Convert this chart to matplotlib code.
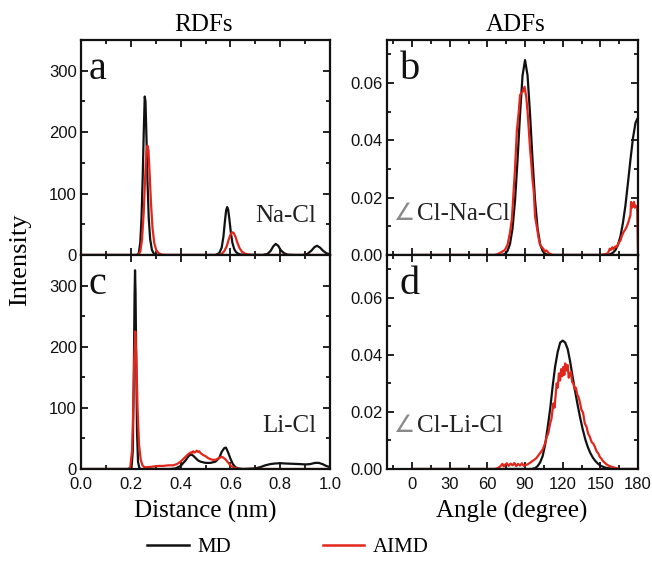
import matplotlib
matplotlib.use("Agg")
import matplotlib.pyplot as plt
from matplotlib.lines import Line2D
from matplotlib.ticker import MultipleLocator, FormatStrFormatter

# ---------------- data ----------------
# Panel a: Na-Cl RDF
nacl_md_x = [0.0, 0.225, 0.232, 0.238, 0.243, 0.248, 0.252, 0.256, 0.259, 0.263, 0.267, 0.272, 0.278, 0.285, 0.293, 0.305,
             0.50, 0.54, 0.555, 0.565, 0.572, 0.578, 0.583, 0.587, 0.591, 0.596, 0.602, 0.608, 0.615, 0.622, 0.632, 0.645,
             0.73, 0.75, 0.762, 0.772, 0.782, 0.792, 0.802, 0.815, 0.83, 0.86,
             0.89, 0.91, 0.925, 0.938, 0.948, 0.96, 0.972, 0.985, 1.0]
nacl_md_y = [0, 0, 3, 20, 60, 130, 200, 258, 250, 190, 120, 60, 25, 8, 2, 0,
             0, 0, 3, 12, 30, 55, 73, 78, 74, 58, 36, 20, 10, 5, 2, 0.5,
             0, 2, 7, 14, 18, 15, 8, 3, 0.5, 0,
             0, 2, 7, 13, 15, 12, 7, 3, 1]
nacl_aimd_x = [0.0, 0.228, 0.238, 0.245, 0.252, 0.258, 0.263, 0.267, 0.271, 0.276, 0.281, 0.287, 0.294, 0.302, 0.312, 0.325, 0.34,
               0.55, 0.565, 0.575, 0.585, 0.593, 0.600, 0.607, 0.613, 0.62, 0.628, 0.637, 0.647, 0.66, 0.675, 0.69, 1.0]
nacl_aimd_y = [0, 0, 5, 25, 70, 130, 170, 178, 170, 130, 85, 45, 20, 8, 3, 0.5, 0,
               0, 2, 6, 14, 25, 33, 37, 36, 30, 20, 11, 5, 2, 0.5, 0, 0]

# Panel c: Li-Cl RDF
licl_md_x = [0.0, 0.195, 0.203, 0.208, 0.212, 0.215, 0.217, 0.219, 0.222, 0.225, 0.229, 0.234, 0.24,
             0.36, 0.38, 0.40, 0.42, 0.43, 0.44, 0.45, 0.46, 0.47, 0.48, 0.50, 0.52, 0.54, 0.555, 0.565, 0.575,
             0.582, 0.59, 0.60, 0.61, 0.62, 0.63, 0.65, 0.70, 0.72, 0.74, 0.76, 0.78, 0.80, 0.82, 0.85, 0.88,
             0.90, 0.92, 0.94, 0.955, 0.97, 0.985, 1.0]
licl_md_y = [0, 0, 2, 30, 150, 280, 325, 290, 170, 60, 12, 2, 0,
             0, 1, 5, 14, 20, 24, 22, 18, 14, 12, 10, 10, 12, 18, 28, 34,
             35, 28, 17, 8, 3, 1, 0, 1, 3, 6, 8, 9, 9.5, 9, 8.5, 8,
             7.5, 8, 10, 10, 8, 5, 3]
licl_aimd_x = [0.0, 0.19, 0.198, 0.205, 0.21, 0.214, 0.218, 0.222, 0.227, 0.233, 0.24, 0.247, 0.255, 0.27, 0.29,
               0.31, 0.33, 0.35, 0.37, 0.385, 0.40, 0.41, 0.42, 0.43, 0.44, 0.445, 0.45, 0.455, 0.46, 0.465,
               0.47, 0.475, 0.48, 0.49, 0.50, 0.51, 0.52, 0.53, 0.54, 0.55, 0.56, 0.565, 0.57, 0.58, 0.59,
               0.60, 0.61, 0.62, 0.63, 0.65, 1.0]
licl_aimd_y = [0, 0, 3, 30, 100, 180, 225, 185, 100, 40, 15, 6, 3, 3, 4,
               5, 5, 6, 6, 8, 12, 16, 20, 24, 27, 26, 29, 27, 28, 30,
               28, 29, 26, 23, 21, 18, 16, 15, 15, 17, 19, 20, 19, 16, 11,
               6, 3, 1.5, 0.5, 0, 0]

# Panel b: Cl-Na-Cl ADF
clnacl_md_x = [0, 70, 72, 74, 76, 78, 80, 82, 84, 86, 88, 90, 92, 94, 96, 98, 100, 102, 104, 106, 108, 110,
               156, 158, 160, 162, 164, 166, 168, 170, 172, 174, 176, 178, 180]
clnacl_md_y = [0, 0, 0.0001, 0.0004, 0.0014, 0.0038, 0.0092, 0.0189, 0.033, 0.049, 0.0626, 0.068, 0.0626,
               0.049, 0.033, 0.0189, 0.0092, 0.0038, 0.0014, 0.0004, 0.0001, 0,
               0, 0.0003, 0.0008, 0.0017, 0.0035, 0.0065, 0.0112, 0.0173, 0.0252, 0.0333, 0.0408, 0.0461, 0.048]
clnacl_aimd_x = [0, 66, 69, 72, 74, 76, 78, 79.5, 81, 82, 83.5, 85, 86, 87, 88.3, 89.6, 91, 92, 93, 94, 94.8,
                 96, 97, 98, 99.5, 100.6, 102, 103, 104.5, 106, 107, 109, 112,
                 150, 154, 156, 157.5, 158.5, 159.5, 160.5, 162, 163, 164, 165, 166, 167, 168.5, 170, 171,
                 172, 173, 174, 174.5, 175.2, 176, 176.8, 177.5, 178.5, 179.3, 179.7, 180]
clnacl_aimd_y = [0, 0, 0.0005, 0.0012, 0.0018, 0.0035, 0.0078, 0.0125, 0.023, 0.030, 0.0436, 0.050, 0.0558,
                 0.0565, 0.057, 0.0587, 0.055, 0.050, 0.0436, 0.037, 0.033,
                 0.026, 0.022, 0.0134, 0.0095, 0.0064, 0.0035, 0.0029, 0.0022, 0.0012, 0.0016, 0.0006, 0,
                 0, 0.0003, 0.0006, 0.0022, 0.0018, 0.0027, 0.0021, 0.003, 0.0028, 0.0036, 0.0045, 0.005,
                 0.0065, 0.008, 0.009, 0.0099,
                 0.011, 0.0125, 0.014, 0.0185, 0.0165, 0.017, 0.0185, 0.0165, 0.0172, 0.0168, 0.008, 0]

# Panel d: Cl-Li-Cl ADF
cllicl_md_x = [0, 95, 98, 100, 102, 104, 106, 108, 110, 112, 114, 116, 118, 120, 122, 124, 126, 128, 130,
               132, 134, 136, 138, 140, 142, 144, 146, 148, 150, 153, 156, 160, 165, 180]
cllicl_md_y = [0, 0, 0.0003, 0.001, 0.0023, 0.0045, 0.0085, 0.0145, 0.021, 0.029, 0.036, 0.041, 0.0443,
               0.045, 0.0443, 0.042, 0.0375, 0.032, 0.027, 0.0222, 0.0178, 0.0138, 0.0104, 0.0077, 0.0056,
               0.004, 0.0028, 0.0019, 0.0012, 0.0006, 0.0003, 0.0001, 0, 0]
cllicl_aimd_x = [0, 66, 68, 70, 72, 73, 74, 75.5, 77, 78.5, 80, 81.5, 83, 84.5, 86, 87.5, 89, 90.5, 92, 94,
                 96.6, 99, 102, 104, 106, 107.3, 108.5, 110, 111, 112.6, 113.5, 115.2, 116, 117, 117.9,
                 118.8, 119.6, 120.5, 121.3, 122, 123, 124, 124.8, 125.8, 126.6, 127.5, 128.5, 129.5, 130.5,
                 131.5, 132.5, 133.5, 135, 136.2, 137.6, 139, 140.2, 141.6, 143, 144.5, 145.6, 147, 148.3,
                 149.5, 151, 152, 153.5, 155, 157, 158.8, 161, 162.8, 165, 180]
cllicl_aimd_y = [0, 0, 0.0003, 0.0008, 0.0018, 0.0009, 0.0015, 0.002, 0.0011, 0.0019, 0.0013, 0.0021, 0.001,
                 0.0018, 0.0012, 0.002, 0.0011, 0.0014, 0.0016, 0.0022,
                 0.003, 0.0038, 0.0056, 0.0068, 0.009, 0.0113, 0.0125, 0.016, 0.0175, 0.023, 0.0215, 0.030,
                 0.0285, 0.0335, 0.031, 0.035, 0.0325, 0.0358, 0.033, 0.037, 0.0345, 0.0364, 0.032, 0.0335,
                 0.034, 0.0305, 0.030, 0.028, 0.0285, 0.0262, 0.0253, 0.0238, 0.0206, 0.0198, 0.016, 0.0148,
                 0.0125, 0.0113, 0.0095, 0.0088, 0.0078, 0.0062, 0.0055, 0.0043, 0.0035, 0.0028, 0.0022,
                 0.0016, 0.0011, 0.0008, 0.0005, 0.0003, 0, 0]

panel_letters = ["a", "b", "c", "d"]
rdf_labels = ["Na-Cl", "Li-Cl"]
adf_labels = ["Cl-Na-Cl", "Cl-Li-Cl"]
series_names = ["MD", "AIMD"]
col_titles = ["RDFs", "ADFs"]
x_labels = ["Distance (nm)", "Angle (degree)"]
y_label = "Intensity"

# ---------------- style ----------------
BLACK = "#111111"
RED = "#e3261c"
SERIF = ["Liberation Serif", "DejaVu Serif"]
SANS = ["Liberation Sans", "DejaVu Sans"]
plt.rcParams["font.family"] = SANS
plt.rcParams["axes.linewidth"] = 1.6

W, H = 652, 571
fig = plt.figure(figsize=(W / 100, H / 100), dpi=100)

def fx(px):
    return px / W

def fy(py):
    return 1 - py / H

lx0, lx1 = 81, 330
rx0, rx1 = 387, 638
yt, ym, yb = 40, 255, 469

ax_a = fig.add_axes([fx(lx0), fy(ym), fx(lx1 - lx0), (ym - yt) / H])
ax_c = fig.add_axes([fx(lx0), fy(yb), fx(lx1 - lx0), (yb - ym) / H])
ax_b = fig.add_axes([fx(rx0), fy(ym), fx(rx1 - rx0), (ym - yt) / H])
ax_d = fig.add_axes([fx(rx0), fy(yb), fx(rx1 - rx0), (yb - ym) / H])

lw = 1.6
ax_a.plot(nacl_md_x, nacl_md_y, color=BLACK, lw=lw)
ax_a.plot(nacl_aimd_x, nacl_aimd_y, color=RED, lw=lw)
ax_c.plot(licl_md_x, licl_md_y, color=BLACK, lw=lw)
ax_c.plot(licl_aimd_x, licl_aimd_y, color=RED, lw=lw)
ax_b.plot(clnacl_md_x, clnacl_md_y, color=BLACK, lw=lw)
ax_b.plot(clnacl_aimd_x, clnacl_aimd_y, color=RED, lw=lw)
ax_d.plot(cllicl_md_x, cllicl_md_y, color=BLACK, lw=lw)
ax_d.plot(cllicl_aimd_x, cllicl_aimd_y, color=RED, lw=lw)

for ax in (ax_a, ax_c):
    ax.set_xlim(0, 1.0)
    ax.set_ylim(0, 350)
    ax.xaxis.set_major_locator(MultipleLocator(0.2))
    ax.xaxis.set_minor_locator(MultipleLocator(0.1))
    ax.yaxis.set_major_locator(MultipleLocator(100))
    ax.yaxis.set_minor_locator(MultipleLocator(50))
    ax.xaxis.set_major_formatter(FormatStrFormatter("%.1f"))
for ax in (ax_b, ax_d):
    ax.set_xlim(-20, 180)
    ax.set_ylim(0, 0.075)
    ax.set_xticks([0, 30, 60, 90, 120, 150, 180])
    ax.xaxis.set_minor_locator(MultipleLocator(15))
    ax.yaxis.set_major_locator(MultipleLocator(0.02))
    ax.yaxis.set_minor_locator(MultipleLocator(0.01))
    ax.yaxis.set_major_formatter(FormatStrFormatter("%.2f"))

for ax in (ax_a, ax_b, ax_c, ax_d):
    ax.tick_params(which="both", top=True, right=True, direction="in", width=1.3, labelsize=12,
                   colors=BLACK)
    ax.tick_params(axis="y", which="both", pad=3)
    ax.tick_params(axis="x", which="both", pad=6)
    ax.tick_params(which="major", length=5)
    ax.tick_params(which="minor", length=3)
    for sp in ax.spines.values():
        sp.set_color(BLACK)
    for lab in ax.get_xticklabels() + ax.get_yticklabels():
        lab.set_family(SANS)
for ax in (ax_a, ax_b):
    ax.tick_params(labelbottom=False)

# panel letters
for ax, letter, xpos in ((ax_a, "a", 0.032), (ax_c, "c", 0.032), (ax_b, "b", 0.05), (ax_d, "d", 0.048)):
    ax.text(xpos, 0.817, letter, transform=ax.transAxes, ha="left", va="baseline",
            fontsize=29, family=SERIF, color=BLACK)

ax_a.text(0.944, 0.153, rdf_labels[0], transform=ax_a.transAxes, ha="right", va="baseline",
          fontsize=18, family=SERIF, color="#222222")
ax_c.text(0.944, 0.173, rdf_labels[1], transform=ax_c.transAxes, ha="right", va="baseline",
          fontsize=18, family=SERIF, color="#222222")
for ax, lab, yb_ in ((ax_b, adf_labels[0], 0.163), (ax_d, adf_labels[1], 0.174)):
    ax.text(0.028, yb_, "\u2220", transform=ax.transAxes, ha="left", va="baseline",
            fontsize=17, family=["DejaVu Sans"], color="#8a8a8a")
    ax.text(0.12, yb_, lab, transform=ax.transAxes, ha="left", va="baseline",
            fontsize=18, family=SERIF, color="#222222")

# column titles and axis labels
fig.text(fx(203), fy(31), col_titles[0], ha="center", va="baseline", fontsize=18, family=SERIF)
fig.text(fx(516), fy(31), col_titles[1], ha="center", va="baseline", fontsize=18, family=SERIF)
fig.text(fx(205), fy(511), x_labels[0], ha="center", va="center", fontsize=18, family=SERIF)
fig.text(fx(512), fy(511), x_labels[1], ha="center", va="center", fontsize=18, family=SERIF)
fig.text(fx(20), fy(260), y_label, ha="center", va="center", rotation=90, fontsize=19, family=SERIF)

handles = [Line2D([], [], color=BLACK, lw=1.8), Line2D([], [], color=RED, lw=1.8)]
fig.legend(handles, series_names, loc="center", bbox_to_anchor=(fx(288), fy(547)), ncol=2,
           frameon=False, prop={"family": SERIF, "size": 15}, handlelength=2.0,
           handletextpad=0.4, columnspacing=4.4)

fig.savefig("out.png", dpi=100)
